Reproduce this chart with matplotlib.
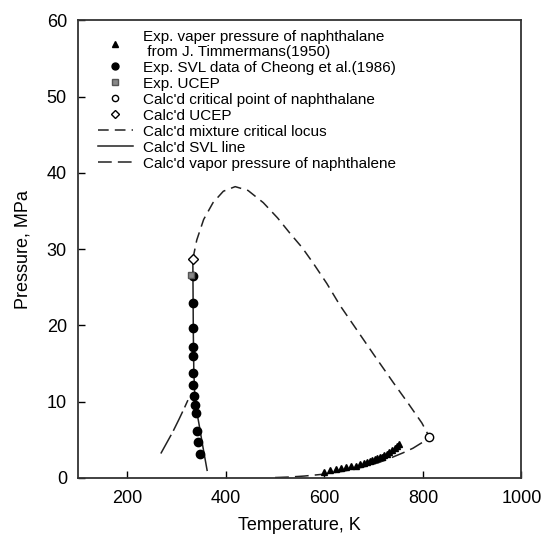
import matplotlib
matplotlib.use("Agg")
import matplotlib.pyplot as plt
from matplotlib.lines import Line2D

plt.rcParams["font.family"] = ["Liberation Sans", "DejaVu Sans"]

# Exp. vapor pressure (Timmermans 1950)
vp_exp_T = [600, 612, 624, 634, 644, 654, 664, 673, 680, 687, 692, 697, 702, 707, 712, 717,
            722, 727, 732, 738, 743, 748, 752]
vp_exp_P = [0.8, 1.0, 1.2, 1.3, 1.4, 1.5, 1.6, 1.8, 1.9, 2.1, 2.25, 2.4, 2.5, 2.6, 2.7, 2.8,
            2.95, 3.1, 3.4, 3.7, 3.9, 4.2, 4.4]

# Exp. SVL data (Cheong et al. 1986)
svl_exp_T = [334, 333.5, 333.5, 333.5, 333.5, 333.5, 334, 335, 337, 339, 342, 344, 348]
svl_exp_P = [26.5, 23.0, 19.6, 17.2, 16.0, 13.7, 12.2, 10.8, 9.6, 8.5, 6.2, 4.7, 3.1]

# Exp. UCEP
ucep_exp_T = [329]
ucep_exp_P = [26.6]

# Calc'd critical point of naphthalene
crit_T = [813]
crit_P = [5.4]

# Calc'd UCEP
ucep_calc_T = [333]
ucep_calc_P = [28.7]

# Calc'd mixture critical locus
locus_T = [333, 341, 355, 374, 395, 419, 445, 476, 505, 530, 555, 577, 605, 632, 665, 700, 740, 770, 798, 813]
locus_P = [28.7, 31.2, 33.9, 36.1, 37.6, 38.2, 37.7, 36.1, 34.1, 32.1, 30.2, 28.2, 25.5, 22.6, 19.5, 16.2, 12.5, 9.8, 7.2, 5.4]

# lower branch of the critical locus
locus2_T = [268, 280, 292, 305, 316, 323]
locus2_P = [3.2, 4.6, 6.0, 7.7, 9.2, 10.2]

# Calc'd SVL line
svl_T = [333, 333.5, 334, 335, 337, 341, 346, 352, 357, 362]
svl_P = [28.7, 24.0, 19.0, 14.0, 10.8, 8.7, 6.9, 4.6, 2.8, 1.0]

# Calc'd vapor pressure of naphthalene
vp_T = [500, 530, 560, 600, 640, 680, 710, 734, 760, 780, 800, 813]
vp_P = [0.05, 0.12, 0.25, 0.5, 0.9, 1.45, 2.0, 2.6, 3.3, 3.9, 4.7, 5.4]

fig = plt.figure(figsize=(5.42, 5.37), dpi=100)
ax = fig.add_axes([0.144, 0.11, 0.818, 0.852])

dash_locus = (7, 4)
dash_vp = (9, 4)

ax.plot(locus_T, locus_P, color="#222222", lw=1.1, dashes=dash_locus)
ax.plot(locus2_T, locus2_P, color="#222222", lw=1.1, dashes=(14, 3))
ax.plot(svl_T, svl_P, color="#222222", lw=1.1)
ax.plot(vp_T, vp_P, color="#222222", lw=1.1, dashes=dash_vp)

ax.plot(vp_exp_T, vp_exp_P, "^", color="black", ms=5, ls="none")
ax.plot(svl_exp_T, svl_exp_P, "o", color="black", ms=6, ls="none")
ax.plot(ucep_exp_T, ucep_exp_P, "s", color="#555555", mfc="#888888", ms=5, ls="none")
ax.plot(crit_T, crit_P, "o", color="black", mfc="white", ms=6, mew=1.0, ls="none")
ax.plot(ucep_calc_T, ucep_calc_P, "D", color="black", mfc="white", ms=5, mew=1.0, ls="none")

ax.set_xlim(100, 1000)
ax.set_ylim(0, 60)
ax.set_xticks([200, 400, 600, 800, 1000])
ax.set_yticks([0, 10, 20, 30, 40, 50, 60])
ax.tick_params(direction="in", length=5, width=1.0, labelsize=13, top=False, right=False)
ax.tick_params(axis="x", pad=9)
ax.tick_params(axis="y", pad=8)
for s in ax.spines.values():
    s.set_linewidth(1.3)
    s.set_color("#333333")
ax.set_xlabel("Temperature, K", fontsize=13, labelpad=7)
ax.set_ylabel("Pressure, MPa", fontsize=13, labelpad=11)

handles = [
    Line2D([], [], marker="^", color="black", ms=4, ls="none"),
    Line2D([], [], marker="o", color="black", ms=5, ls="none"),
    Line2D([], [], marker="s", color="#555555", mfc="#888888", ms=4, ls="none"),
    Line2D([], [], marker="o", color="black", mfc="white", ms=4.5, ls="none"),
    Line2D([], [], marker="D", color="black", mfc="white", ms=4, ls="none"),
    Line2D([], [], color="#222222", lw=1.1, dashes=dash_locus),
    Line2D([], [], color="#222222", lw=1.1),
    Line2D([], [], color="#222222", lw=1.1, dashes=dash_vp),
]
labels = [
    "Exp. vaper pressure of naphthalane\n from J. Timmermans(1950)",
    "Exp. SVL data of Cheong et al.(1986)",
    "Exp. UCEP",
    "Calc'd critical point of naphthalane",
    "Calc'd UCEP",
    "Calc'd mixture critical locus",
    "Calc'd SVL line",
    "Calc'd vapor pressure of naphthalene",
]
leg = ax.legend(handles, labels, loc="upper left", bbox_to_anchor=(0.02, 1.003),
                frameon=False, fontsize=11, handlelength=2.3, handletextpad=0.7,
                labelspacing=0.13, borderaxespad=0.3)
for t in leg.get_texts():
    t.set_linespacing(1.1)

fig.savefig("out.png", dpi=100)
